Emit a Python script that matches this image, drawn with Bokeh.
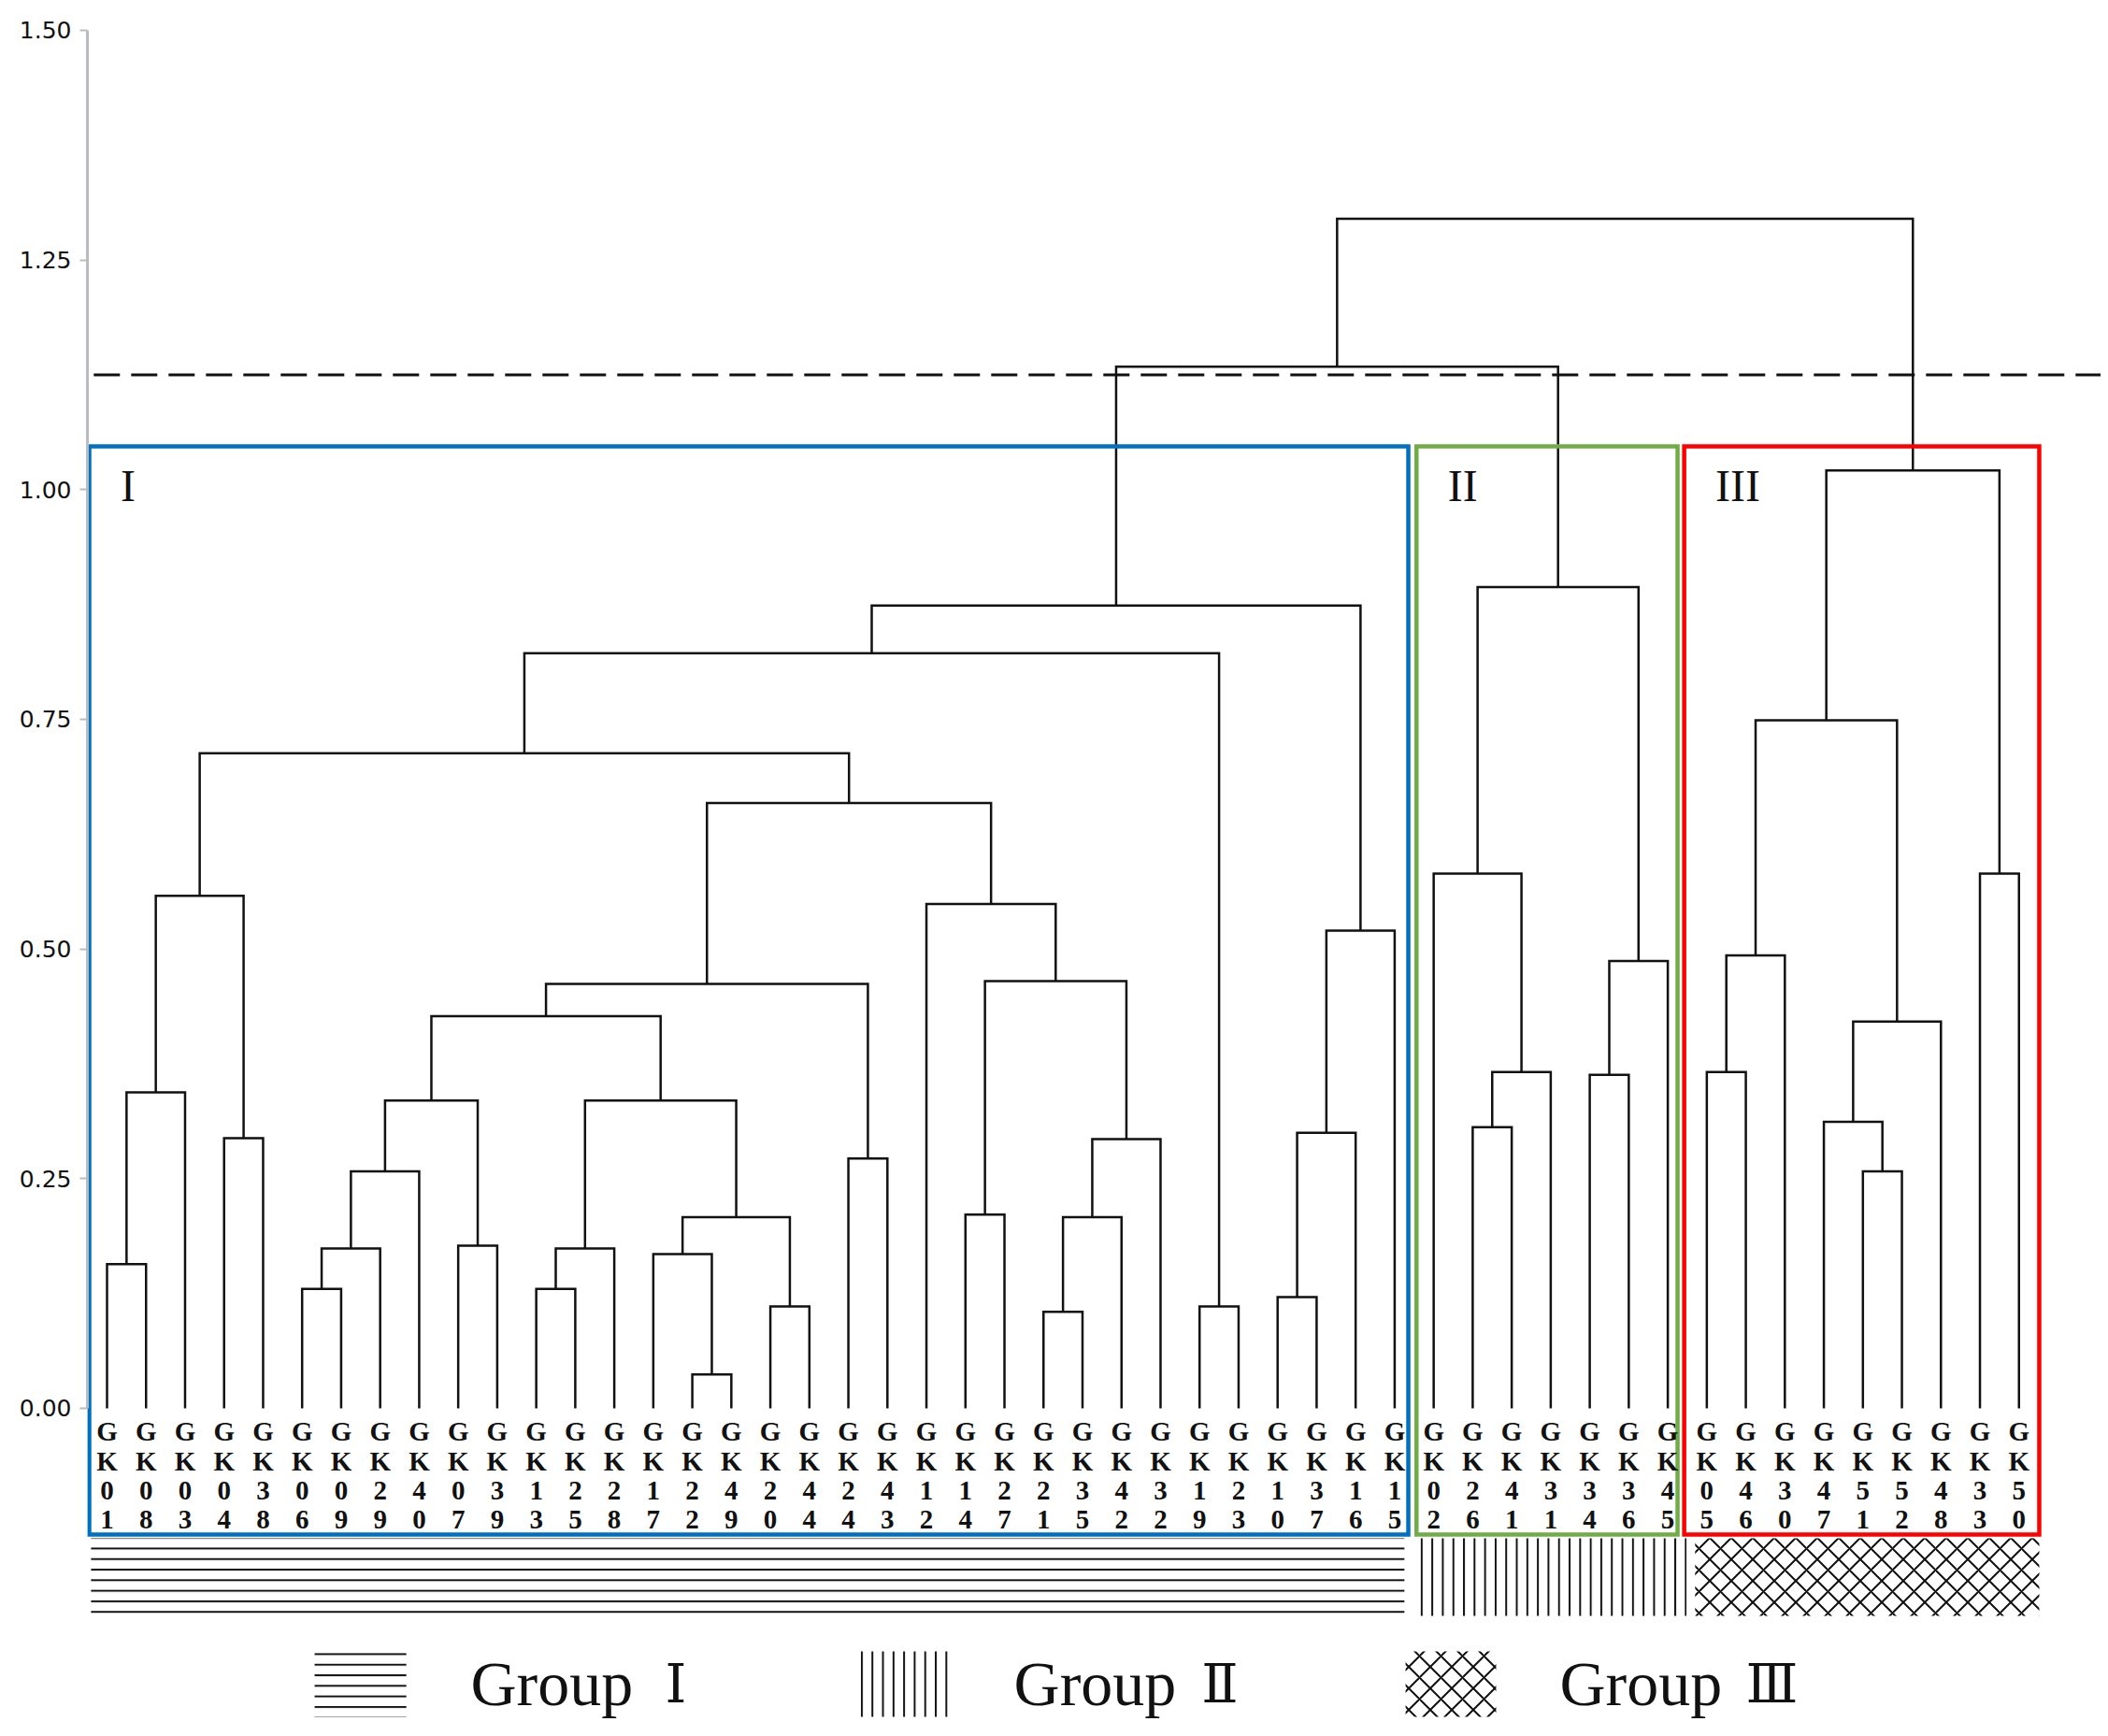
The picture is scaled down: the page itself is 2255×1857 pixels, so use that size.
from bokeh.plotting import figure
from bokeh.models import Range1d, FixedTicker
from bokeh.core.properties import value
from bokeh.embed import file_html
from bokeh.resources import INLINE

# ---------------- data ----------------
leaf_labels = ["GK01", "GK08", "GK03", "GK04", "GK38", "GK06", "GK09", "GK29", "GK40", "GK07",
               "GK39", "GK13", "GK25", "GK28", "GK17", "GK22", "GK49", "GK20", "GK44", "GK24",
               "GK43", "GK12", "GK14", "GK27", "GK21", "GK35", "GK42", "GK32", "GK19", "GK23",
               "GK10", "GK37", "GK16", "GK15", "GK02", "GK26", "GK41", "GK31", "GK34", "GK36",
               "GK45", "GK05", "GK46", "GK30", "GK47", "GK51", "GK52", "GK48", "GK33", "GK50"]

# linkage (scipy style: leaves 0..49, new clusters 50..98)
merge_left = [15, 24, 17, 28, 30, 5, 11, 0, 14, 55, 56, 9, 58, 51, 22, 59, 45, 19, 63, 3,
              54, 35, 44, 65, 60, 57, 38, 71, 41, 72, 73, 80, 64, 76, 78, 70, 21, 75, 34, 48,
              81, 87, 84, 91, 93, 88, 92, 94, 97]
merge_right = [16, 25, 18, 29, 31, 6, 12, 1, 50, 7, 13, 10, 52, 26, 23, 8, 46, 20, 27, 4,
               32, 36, 66, 61, 62, 2, 39, 37, 42, 47, 74, 67, 68, 40, 43, 33, 82, 69, 77, 49,
               86, 90, 79, 53, 85, 83, 89, 95, 96]
merge_height = [0.037, 0.105, 0.111, 0.111, 0.121, 0.130, 0.130, 0.157, 0.168, 0.174,
                0.174, 0.177, 0.208, 0.208, 0.211, 0.258, 0.258, 0.272, 0.293, 0.294,
                0.300, 0.306, 0.312, 0.335, 0.335, 0.344, 0.363, 0.366, 0.366, 0.421,
                0.427, 0.462, 0.465, 0.487, 0.493, 0.520, 0.549, 0.558, 0.582, 0.582,
                0.659, 0.713, 0.749, 0.822, 0.874, 0.894, 1.021, 1.134, 1.295]

cut_height = 1.125

group_names = ["I", "II", "III"]
legend_word = "Group"
legend_numerals = ["\u2160", "\u2161", "\u2162"]
group_first = [0, 34, 41]
group_last = [33, 40, 49]

y_ticks = [0.0, 0.25, 0.5, 0.75, 1.0, 1.25, 1.5]
y_tick_labels = ["0.00", "0.25", "0.50", "0.75", "1.00", "1.25", "1.50"]

# ---------------- styles / layout ----------------
group_colors = ["#0070C0", "#70AD47", "#FF0000"]
group_hatch = ["horizontal_line", "vertical_line", "diagonal_cross"]
group_hatch_scale = [11.3, 11.3, 23]
box_pad_l = [0.455, 0.44, 0.58]
box_pad_r = [0.35, 0.25, 0.52]
band_pad_l = [0.41, 0.36, 0.30]
band_pad_r = [0.25, 0.48, 0.52]
box_top, box_bottom = 1.0472, -0.1374
band_top, band_bottom = -0.1415, -0.2259
leg_sw_x0 = [5.32, 19.24, 33.28]
leg_sw_x1 = [7.67, 21.56, 35.60]
leg_sw_top, leg_sw_bot = -0.2646, -0.3358
leg_txt_x = [9.32, 23.24, 37.23]
leg_num_x = [14.30, 28.05, 42.0]
leg_txt_y = -0.2997
grp_lbl_y = 1.0044

px = 1 / 982.67  # data units per pixel (vertical)

p = figure(width=2247, height=1849,
           x_range=Range1d(-0.503, 51.102), y_range=Range1d(-0.34905, 1.5244),
           output_backend="svg", toolbar_location=None, x_axis_location=None,
           min_border_left=93, min_border_right=0, min_border_top=8, min_border_bottom=0)
p.grid.visible = False
p.outline_line_color = None
p.background_fill_color = "white"

ax = p.yaxis[0]
ax.ticker = FixedTicker(ticks=y_ticks)
ax.major_label_overrides = {t: s for t, s in zip(y_ticks, y_tick_labels)}
ax.bounds = (0, 1.5)
ax.axis_line_color = "#b8bcc0"
ax.axis_line_width = 3
ax.major_tick_line_color = "#b8bcc0"
ax.major_tick_line_width = 2
ax.major_tick_out = 8
ax.major_tick_in = 0
ax.minor_tick_line_color = None
ax.major_label_text_font = "DejaVu Sans"
ax.major_label_text_font_size = "25px"
ax.major_label_text_color = "#111111"
ax.major_label_standoff = 9

# ---------------- dendrogram ----------------
n = len(leaf_labels)
node_x = [float(i) for i in range(n)]
node_h = [0.0] * n
xs, ys = [], []
for l, r, h in zip(merge_left, merge_right, merge_height):
    xl, xr = node_x[l], node_x[r]
    xs.append([xl, xl, xr, xr])
    ys.append([node_h[l], h, h, node_h[r]])
    node_x.append((xl + xr) / 2)
    node_h.append(h)
p.multi_line(xs, ys, line_color="#111111", line_width=2.5, line_join="miter")

# cut line
p.segment(x0=[-0.34], y0=[cut_height], x1=[51.102], y1=[cut_height],
          line_color="#111111", line_width=3, line_dash="28 12")

# group boxes, labels, hatch bands, legend
for g in range(len(group_names)):
    x0 = group_first[g] - box_pad_l[g]
    x1 = group_last[g] + box_pad_r[g]
    p.quad(left=[x0], right=[x1], top=[box_top], bottom=[box_bottom],
           fill_color=None, line_color=group_colors[g], line_width=4.5, line_join="miter")
    p.text(x=[x0 + 0.8], y=[grp_lbl_y], text=[group_names[g]],
           text_font=value("Liberation Serif"), text_font_size="48px",
           text_color="#111111", text_align="left", text_baseline="middle")
    p.quad(left=[group_first[g] - band_pad_l[g]], right=[group_last[g] + band_pad_r[g]],
           top=[band_top], bottom=[band_bottom], fill_color=None, line_color=None,
           hatch_pattern=group_hatch[g], hatch_color="#111111",
           hatch_scale=group_hatch_scale[g], hatch_weight=2)
    p.quad(left=[leg_sw_x0[g]], right=[leg_sw_x1[g]], top=[leg_sw_top], bottom=[leg_sw_bot],
           fill_color=None, line_color=None,
           hatch_pattern=group_hatch[g], hatch_color="#111111",
           hatch_scale=group_hatch_scale[g], hatch_weight=2)
    p.text(x=[leg_txt_x[g]], y=[leg_txt_y], text=[legend_word],
           text_font=value("Liberation Serif"), text_font_size="68px",
           text_color="#111111", text_align="left", text_baseline="middle")
    p.text(x=[leg_num_x[g]], y=[leg_txt_y], text=[legend_numerals[g]],
           text_font=value("DejaVu Serif"), text_font_size="58px",
           text_color="#111111", text_align="left", text_baseline="middle")

# leaf labels, stacked vertically one character per row
lx, ly, lt = [], [], []
for i, lab in enumerate(leaf_labels):
    for k, ch in enumerate(lab):
        lx.append(i)
        ly.append(-(25 + 31.4 * k) * px)
        lt.append(ch)
p.text(x=lx, y=ly, text=lt, text_font=value("Liberation Serif"), text_font_style="bold",
       text_font_size="29px", text_color="#111111", text_align="center", text_baseline="middle")

open("out.html", "w").write(file_html(p, INLINE))
